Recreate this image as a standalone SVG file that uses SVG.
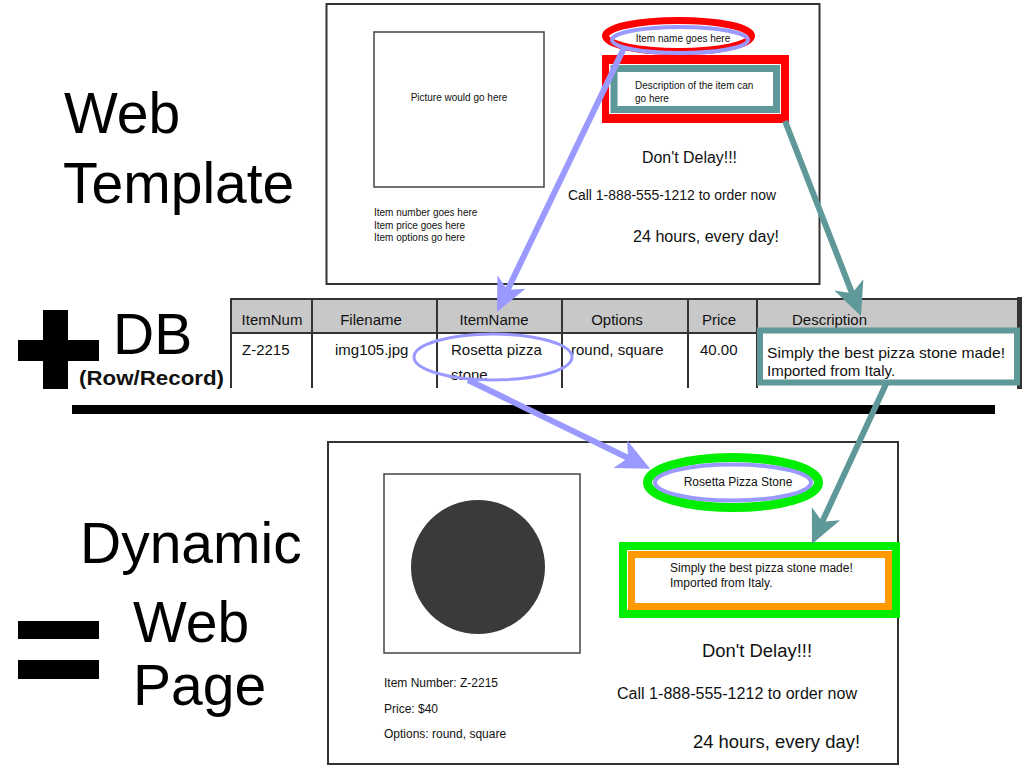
<svg xmlns="http://www.w3.org/2000/svg" width="1024" height="768" viewBox="0 0 1024 768">
<defs>
<style>
text{font-family:"Liberation Sans",Arial,Helvetica,sans-serif;fill:#111}
.big{font-size:57px;fill:#000}
.frame{fill:#fff;stroke:#333;stroke-width:2}
.pic{fill:#fff;stroke:#444;stroke-width:1.5}
.s10{font-size:10px}
.s12{font-size:12px}
.th{font-size:15px;text-anchor:middle}
.td{font-size:15px}
.grid{stroke:#333;stroke-width:2;fill:none}
.lav{stroke:#9999ff;fill:none}
.teal{stroke:#5f9898;fill:none}
</style>
<marker id="ahLav" markerUnits="userSpaceOnUse" orient="auto" markerWidth="40" markerHeight="40" refX="10" refY="0" viewBox="-2 -16 36 32" overflow="visible">
<path d="M30,0 L0,-14 L8,0 L0,14 Z" fill="#9999ff"/>
</marker>
<marker id="ahTeal" markerUnits="userSpaceOnUse" orient="auto" markerWidth="40" markerHeight="40" refX="10" refY="0" viewBox="-2 -16 36 32" overflow="visible">
<path d="M30,0 L0,-14 L8,0 L0,14 Z" fill="#5f9898"/>
</marker>
</defs>
<rect width="1024" height="768" fill="#fff"/>

<g id="labels">
<text class="big" x="64" y="133">Web</text>
<text class="big" x="63" y="203">Template</text>
<text class="big" x="113" y="354">DB</text>
<text x="79" y="385" font-size="20" font-weight="bold" fill="#000" textLength="145" lengthAdjust="spacingAndGlyphs">(Row/Record)</text>
<text class="big" x="80" y="563">Dynamic</text>
<text class="big" x="133" y="642">Web</text>
<text class="big" x="133" y="705">Page</text>
</g>

<g id="symbols" fill="#000">
<rect x="43" y="310" width="25" height="79"/>
<rect x="18" y="340" width="81" height="21"/>
<rect x="72" y="405" width="923" height="9"/>
<rect x="18" y="621" width="81" height="18"/>
<rect x="18" y="660" width="81" height="19"/>
</g>

<g id="template">
<rect class="frame" x="326.5" y="4" width="493" height="280"/>
<rect class="pic" x="374" y="32" width="170" height="155"/>
<text class="s10" x="459" y="101" text-anchor="middle">Picture would go here</text>
<text class="s10" x="374" y="216">Item number goes here</text>
<text class="s10" x="374" y="229">Item price goes here</text>
<text class="s10" x="374" y="241">Item options go here</text>
<ellipse cx="678.5" cy="36" rx="73" ry="15.5" fill="none" stroke="#ff0000" stroke-width="7"/>
<ellipse class="lav" cx="680" cy="40" rx="68" ry="13" fill="#fff" stroke-width="4"/>
<text class="s10" x="683" y="42" text-anchor="middle">Item name goes here</text>
<rect x="602" y="55" width="187" height="68" fill="#ff0000"/>
<rect x="609" y="64" width="172" height="50" fill="#fff"/>
<rect x="614" y="68.5" width="162.5" height="41" fill="#fff" stroke="#5f9898" stroke-width="7"/>
<text class="s10" x="635" y="89">Description of the item can</text>
<text class="s10" x="635" y="102">go here</text>
<text x="689.5" y="163" font-size="16" text-anchor="middle" textLength="95" lengthAdjust="spacingAndGlyphs">Don't Delay!!!</text>
<text x="568" y="200" font-size="14" textLength="208" lengthAdjust="spacingAndGlyphs">Call 1-888-555-1212 to order now</text>
<text x="633" y="242" font-size="16" textLength="146" lengthAdjust="spacingAndGlyphs">24 hours, every day!</text>
</g>

<g id="db-table">
<rect x="231" y="299" width="788" height="34" fill="#c8c8c8"/>
<rect x="1017" y="297" width="5" height="92" fill="#333"/>
<line class="grid" x1="230" y1="299" x2="1019" y2="299" stroke-width="2.5"/>
<line class="grid" x1="231" y1="333" x2="1019" y2="333"/>
<path class="grid" d="M231,299 V388 M312,299 V388 M437,299 V388 M562,299 V388 M688,299 V388 M757,299 V388"/>
<text class="th" x="272" y="325">ItemNum</text>
<text class="th" x="371" y="325">Filename</text>
<text class="th" x="494" y="325">ItemName</text>
<text class="th" x="617" y="325">Options</text>
<text class="th" x="719" y="325">Price</text>
<text class="td" x="792" y="325">Description</text>
<text class="td" x="242" y="355">Z-2215</text>
<text class="td" x="335" y="355">img105.jpg</text>
<text class="td" x="451" y="355">Rosetta pizza</text>
<text class="td" x="451" y="380">stone</text>
<text class="td" x="571" y="355">round, square</text>
<text class="td" x="700" y="355">40.00</text>
<rect x="760" y="330.5" width="257" height="52" fill="#fff" stroke="#5f9898" stroke-width="6"/>
<text class="td" x="767" y="358" textLength="238" lengthAdjust="spacingAndGlyphs">Simply the best pizza stone made!</text>
<text class="td" x="767" y="376">Imported from Italy.</text>
<ellipse class="lav" cx="493" cy="357" rx="79" ry="23" stroke-width="3"/>
</g>

<g id="dynamic-page">
<rect class="frame" x="328" y="442" width="570" height="322"/>
<rect class="pic" x="384" y="474" width="196" height="179"/>
<circle cx="478" cy="567" r="67" fill="#3a3a3a"/>
<text class="s12" x="384" y="687">Item Number: Z-2215</text>
<text class="s12" x="384" y="713">Price: $40</text>
<text class="s12" x="384" y="738">Options: round, square</text>
<ellipse cx="733" cy="482.5" rx="85.5" ry="25" fill="none" stroke="#00ee00" stroke-width="9"/>
<ellipse class="lav" cx="733" cy="482.5" rx="78" ry="18" fill="#fff" stroke-width="4"/>
<text class="s12" x="738" y="486" text-anchor="middle">Rosetta Pizza Stone</text>
<rect x="623" y="546" width="273" height="68" fill="#fff" stroke="#00ee00" stroke-width="8"/>
<rect x="631.5" y="554.5" width="257" height="52" fill="#fff" stroke="#ff9900" stroke-width="7"/>
<text class="s12" x="670" y="572">Simply the best pizza stone made!</text>
<text class="s12" x="670" y="587">Imported from Italy.</text>
<text x="757" y="657" font-size="18" text-anchor="middle" textLength="110" lengthAdjust="spacingAndGlyphs">Don't Delay!!!</text>
<text x="617" y="699" font-size="16" textLength="240" lengthAdjust="spacingAndGlyphs">Call 1-888-555-1212 to order now</text>
<text x="693" y="748" font-size="18" textLength="167" lengthAdjust="spacingAndGlyphs">24 hours, every day!</text>
</g>

<g id="connectors" stroke-width="6">
<line class="lav" x1="624" y1="48" x2="506.6" y2="291.9" marker-end="url(#ahLav)"/>
<line class="teal" x1="785" y1="121" x2="852.9" y2="295.3" marker-end="url(#ahTeal)"/>
<line class="lav" x1="468" y1="380" x2="630.2" y2="459" marker-end="url(#ahLav)"/>
<line class="teal" x1="886" y1="384" x2="821.3" y2="523.8" marker-end="url(#ahTeal)"/>
</g>
</svg>
